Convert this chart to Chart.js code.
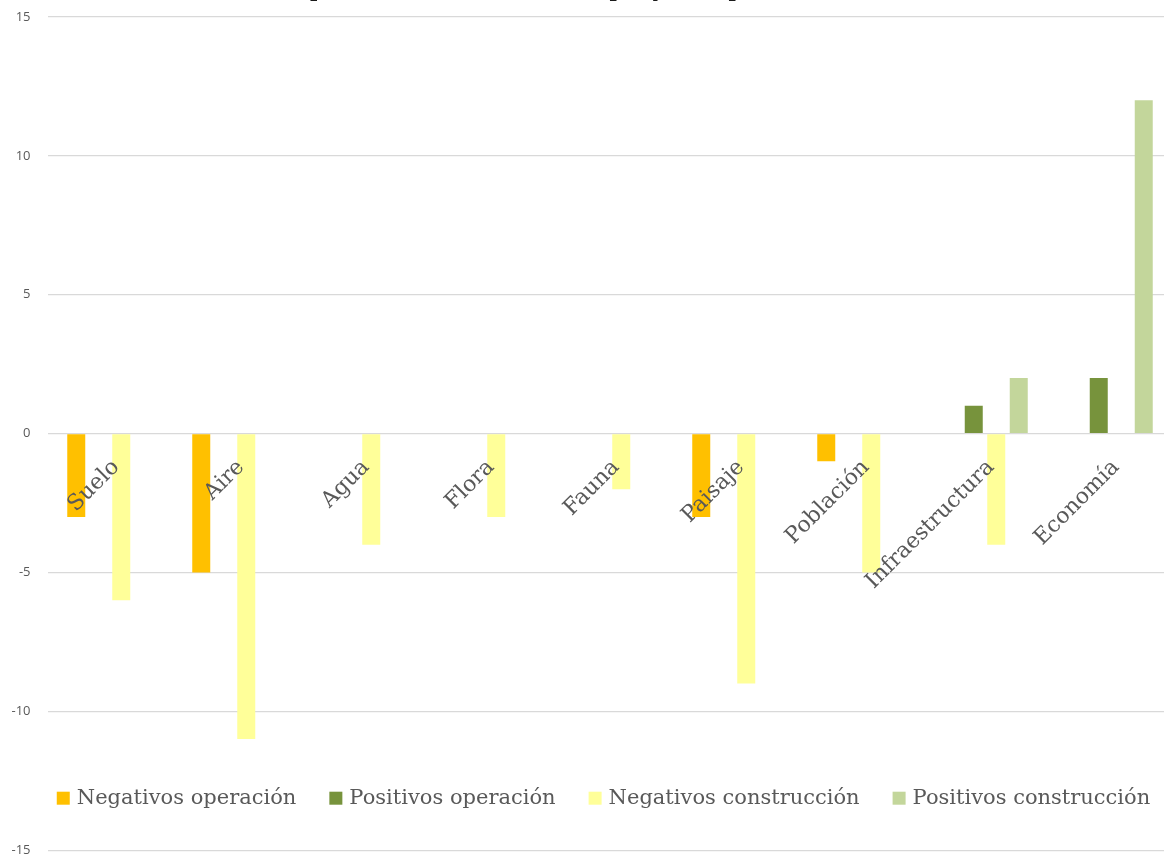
<!DOCTYPE html>
<html>
<head>
<meta charset="utf-8">
<script src="https://cdn.jsdelivr.net/npm/chart.js@4.4.1/dist/chart.umd.min.js"></script>
<style>
    html, body { margin: 0; padding: 0; background: #fff; overflow: hidden; }
    #wrap { position: absolute; left: 0; top: -40px; width: 1176px; height: 915px; }
</style>
</head>
<body>
<div id="wrap"><canvas id="impactos" width="1176" height="915"></canvas></div>
<script>
const categorias = ['Suelo', 'Aire', 'Agua', 'Flora', 'Fauna', 'Paisaje', 'Población', 'Infraestructura', 'Economía']
const negativosOperacion = [-3, -5, 0, 0, 0, -3, -1, 0, 0]
const positivosOperacion = [0, 0, 0, 0, 0, 0, 0, 1, 2]
const negativosConstruccion = [-6, -11, -4, -3, -2, -9, -5, -4, 0]
const positivosConstruccion = [0, 0, 0, 0, 0, 0, 0, 2, 12]
const ticksY = [15, 10, 5, 0, -5, -10, -15]

const serif = '"DejaVu Serif", serif'

// leyenda dibujada dentro del área del gráfico, entre -10 y -15
const leyenda = {
    id: 'leyenda',
    afterDraw(chart) {
        const ctx = chart.ctx
        const box = 13
        const gap = 7
        const space = 33
        ctx.save()
        ctx.font = '21px ' + serif
        const widths = chart.data.datasets.map((ds) => box + gap + ctx.measureText(ds.label).width)
        const total = widths.reduce((a, b) => a + b, 0) + space * (widths.length - 1)
        let x = chart.width / 2 + 15.5 - total / 2
        const y = chart.chartArea.bottom - 52
        chart.data.datasets.forEach((ds, i) => {
            ctx.fillStyle = ds.backgroundColor
            ctx.fillRect(x, y - box / 2, box, box)
            ctx.fillStyle = '#595959'
            ctx.textBaseline = 'middle'
            ctx.fillText(ds.label, x + box + gap, y)
            x += widths[i] + space
        })
        ctx.restore()
    }
}

const ctx = document.getElementById('impactos')
const chart = new Chart(ctx, {
    type: 'bar',
    data: {
        labels: categorias,
        datasets: [
            { label: 'Negativos operación', data: negativosOperacion, backgroundColor: '#FFC000' },
            { label: 'Positivos operación', data: positivosOperacion, backgroundColor: '#77933C' },
            { label: 'Negativos construcción', data: negativosConstruccion, backgroundColor: '#FFFF99' },
            { label: 'Positivos construcción', data: positivosConstruccion, backgroundColor: '#C3D69B' }
        ]
    },
    options: {
        responsive: false,
        animation: false,
        devicePixelRatio: 1,
        categoryPercentage: 0.72,
        barPercentage: 0.8,
        layout: {
            padding: { left: 0, right: 3.5, top: 0, bottom: 5.5 }
        },
        plugins: {
            legend: { display: false },
            tooltip: { enabled: false },
            title: {
                display: true,
                text: 'Impactos ambientales del proyecto por elemento',
                color: '#1a1a1a',
                font: { family: serif, size: 25, weight: 'normal' },
                padding: { top: 14, bottom: 13 }
            }
        },
        scales: {
            x: {
                position: { y: 0 },
                grid: { display: false },
                border: { display: false },
                ticks: {
                    z: 1, // nombres por encima de las barras
                    color: '#595959',
                    font: { family: serif, size: 22 },
                    minRotation: 45,
                    maxRotation: 45,
                    autoSkip: false,
                    labelOffset: 6,
                    padding: 13
                }
            },
            y: {
                min: -15,
                max: 15,
                afterFit(scale) {
                    scale.width = 47.5
                },
                afterBuildTicks(scale) {
                    scale.ticks = ticksY.map((v) => ({ value: v }))
                },
                grid: {
                    color: '#d9d9d9',
                    lineWidth: 1.3,
                    drawTicks: false
                },
                border: { display: false },
                ticks: {
                    color: '#595959',
                    font: { family: '"Open Sans", sans-serif', size: 13 },
                    padding: 17
                }
            }
        }
    },
    plugins: [leyenda]
})
</script>
</body>
</html>
